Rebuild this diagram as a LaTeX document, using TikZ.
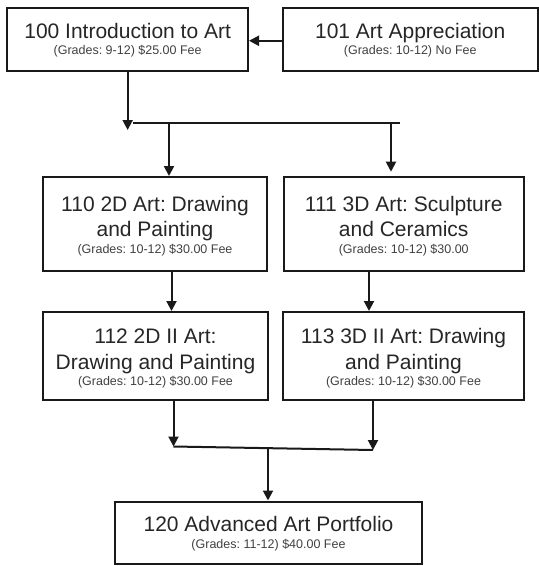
\documentclass[tikz,border=0pt]{standalone}
\usepackage{fontspec}
\setmainfont{Liberation Sans}
\usetikzlibrary{arrows.meta,calc}
\begin{document}
\frenchspacing
\begin{tikzpicture}[x=1pt,y=-1pt,
  box/.style={draw=black!90, line width=2pt, rectangle, inner sep=0pt},
  ttl/.style={font=\fontsize{21}{24}\selectfont, text=black!85, anchor=base, inner sep=0pt},
  sub/.style={font=\fontsize{12.5}{14}\selectfont, text=black!75, anchor=base, inner sep=0pt},
  ln/.style={line width=2pt, draw=black!90},
  arr/.style={ln, -{Triangle[length=10pt,width=10pt]}}]
\useasboundingbox (0,0) rectangle (539,566);
% boxes
\node[box, minimum width=240.7pt, minimum height=62.5pt] (b100) at (127.65,39.25) {};
\node[box, minimum width=254.5pt, minimum height=62.5pt] (b101) at (410.25,39.25) {};
\node[box, minimum width=224pt, minimum height=93.5pt] (b110) at (155,223.75) {};
\node[box, minimum width=240.5pt, minimum height=93.5pt] (b111) at (403.75,223.75) {};
\node[box, minimum width=225pt, minimum height=88pt] (b112) at (155.5,356) {};
\node[box, minimum width=241pt, minimum height=88pt] (b113) at (403.5,356) {};
\node[box, minimum width=307pt, minimum height=62.5pt] (b120) at (268.5,532.75) {};
% texts
\node[ttl] (t100) at (127.65,38) {100 Introduction to Art};
\node[sub] (s100) at (127.65,54.5) {(Grades: 9-12) \$25.00 Fee};
\node[ttl] (t101) at (410.25,38) {101 Art Appreciation};
\node[sub] (s101) at (410.25,54.5) {(Grades: 10-12) No Fee};
\node[ttl] (t110a) at (155,211.5) {110 2D Art: Drawing};
\node[ttl] (t110b) at (155,236.3) {and Painting};
\node[sub] (s110) at (155,253.5) {(Grades: 10-12) \$30.00 Fee};
\node[ttl] (t111a) at (403.75,211.5) {111 3D Art: Sculpture};
\node[ttl] (t111b) at (403.75,236.3) {and Ceramics};
\node[sub] (s111) at (403.75,253.5) {(Grades: 10-12) \$30.00};
\node[ttl] (t112a) at (155.5,343.3) {112 2D II Art:};
\node[ttl] (t112b) at (155.5,369) {Drawing and Painting};
\node[sub] (s112) at (155.5,385) {(Grades: 10-12) \$30.00 Fee};
\node[ttl] (t113a) at (403.5,343.3) {113 3D II Art: Drawing};
\node[ttl] (t113b) at (403.5,369) {and Painting};
\node[sub] (s113) at (403.5,385) {(Grades: 10-12) \$30.00 Fee};
\node[ttl] (t120) at (268.5,531.7) {120 Advanced Art Portfolio};
\node[sub] (s120) at (268.5,548.3) {(Grades: 11-12) \$40.00 Fee};
% connectors
\draw[arr] ($(b101.west)+(0,1.5)$) -- ($(b100.east)+(0,1.5)$);
\coordinate (j1) at (127.65,130);
\draw[arr] (b100.south) -- (j1);
\coordinate (h1) at (133,122.5);
\coordinate (h2) at (400,122.5);
\draw[ln] (h1) -- (h2);
\coordinate (h3) at (169,122.5);
\draw[arr] (h3) -- (h3 |- b110.north);
\coordinate (h4) at (391,122.5);
\coordinate (e111) at (391,171.7);
\draw[arr] (h4) -- (e111);
\coordinate (a1) at (171.5,0);
\draw[arr] (a1 |- b110.south) -- (a1 |- b112.north);
\coordinate (a2) at (369,0);
\draw[arr] (a2 |- b111.south) -- (a2 |- b113.north);
\coordinate (m1) at (173.5,446.5);
\coordinate (m2) at (373,450);
\draw[arr] (m1 |- b112.south) -- (m1);
\draw[arr] (m2 |- b113.south) -- (m2);
\draw[ln] (m1) -- (m2);
\coordinate (m3) at (268,448.3);
\draw[arr] (m3) -- (m3 |- b120.north);
\end{tikzpicture}
\end{document}
